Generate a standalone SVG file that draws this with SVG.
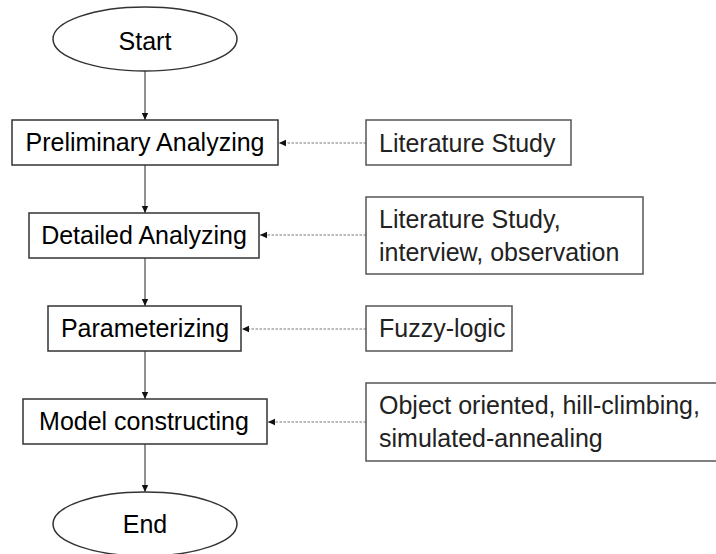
<svg xmlns="http://www.w3.org/2000/svg" width="716" height="554" viewBox="0 0 716 554">
<style>
.bg{fill:#fff}
.node{fill:#fff;stroke:#333;stroke-width:1.5}
.side{fill:#fff;stroke:#555;stroke-width:1.5}
.t{font-family:"Liberation Sans",Arial,sans-serif;font-size:25px;fill:#000}
.ts{font-family:"Liberation Sans",Arial,sans-serif;font-size:25px;fill:#222}
.solid{stroke:#555;stroke-width:1.3;fill:none}
.dash{stroke:#777;stroke-width:1.2;stroke-dasharray:2.5 1.5;fill:none}
</style>
<defs>
<marker id="ah" markerWidth="8" markerHeight="8" refX="7" refY="4" orient="auto" markerUnits="userSpaceOnUse">
<path d="M0,0.8 L7,4 L0,7.2 Z" fill="#111"/>
</marker>
</defs>
<rect class="bg" width="716" height="554"/>
<g id="connectors">
<line class="solid" x1="145" y1="71" x2="145" y2="120" marker-end="url(#ah)"/>
<line class="solid" x1="145" y1="165" x2="145" y2="213" marker-end="url(#ah)"/>
<line class="solid" x1="145" y1="258" x2="145" y2="306" marker-end="url(#ah)"/>
<line class="solid" x1="145" y1="351" x2="145" y2="399" marker-end="url(#ah)"/>
<line class="solid" x1="145" y1="444" x2="145" y2="492" marker-end="url(#ah)"/>
<line class="dash" x1="366" y1="143" x2="279" y2="143" marker-end="url(#ah)"/>
<line class="dash" x1="366" y1="235" x2="260" y2="235" marker-end="url(#ah)"/>
<line class="dash" x1="366" y1="329" x2="242" y2="329" marker-end="url(#ah)"/>
<line class="dash" x1="366" y1="422" x2="268" y2="422" marker-end="url(#ah)"/>
</g>
<g id="start">
<ellipse class="node" cx="145" cy="39" rx="92" ry="32"/>
<text class="t" x="145" y="50" text-anchor="middle">Start</text>
</g>
<g id="preliminary">
<rect class="node" x="12" y="120" width="266" height="45"/>
<text class="t" x="145" y="151" text-anchor="middle">Preliminary Analyzing</text>
</g>
<g id="detailed">
<rect class="node" x="29" y="213" width="230" height="45"/>
<text class="t" x="144" y="244" text-anchor="middle">Detailed Analyzing</text>
</g>
<g id="parameterizing">
<rect class="node" x="48" y="306" width="193" height="45"/>
<text class="t" x="145" y="337" text-anchor="middle">Parameterizing</text>
</g>
<g id="model">
<rect class="node" x="23" y="399" width="244" height="45"/>
<text class="t" x="144" y="430" text-anchor="middle">Model constructing</text>
</g>
<g id="end">
<ellipse class="node" cx="145" cy="524" rx="92" ry="32"/>
<text class="t" x="145" y="533" text-anchor="middle">End</text>
</g>
<g id="lit1">
<rect class="side" x="366" y="120" width="205" height="45"/>
<text class="ts" x="379" y="152">Literature Study</text>
</g>
<g id="lit2">
<rect class="side" x="366" y="197" width="277" height="77"/>
<text class="ts" x="379" y="228">Literature Study,</text>
<text class="ts" x="379" y="261">interview, observation</text>
</g>
<g id="fuzzy">
<rect class="side" x="366" y="306" width="146" height="45"/>
<text class="ts" x="379" y="337">Fuzzy-logic</text>
</g>
<g id="object">
<rect class="side" x="366" y="383" width="360" height="78"/>
<text class="ts" x="379" y="414">Object oriented, hill-climbing,</text>
<text class="ts" x="379" y="447">simulated-annealing</text>
</g>
</svg>
